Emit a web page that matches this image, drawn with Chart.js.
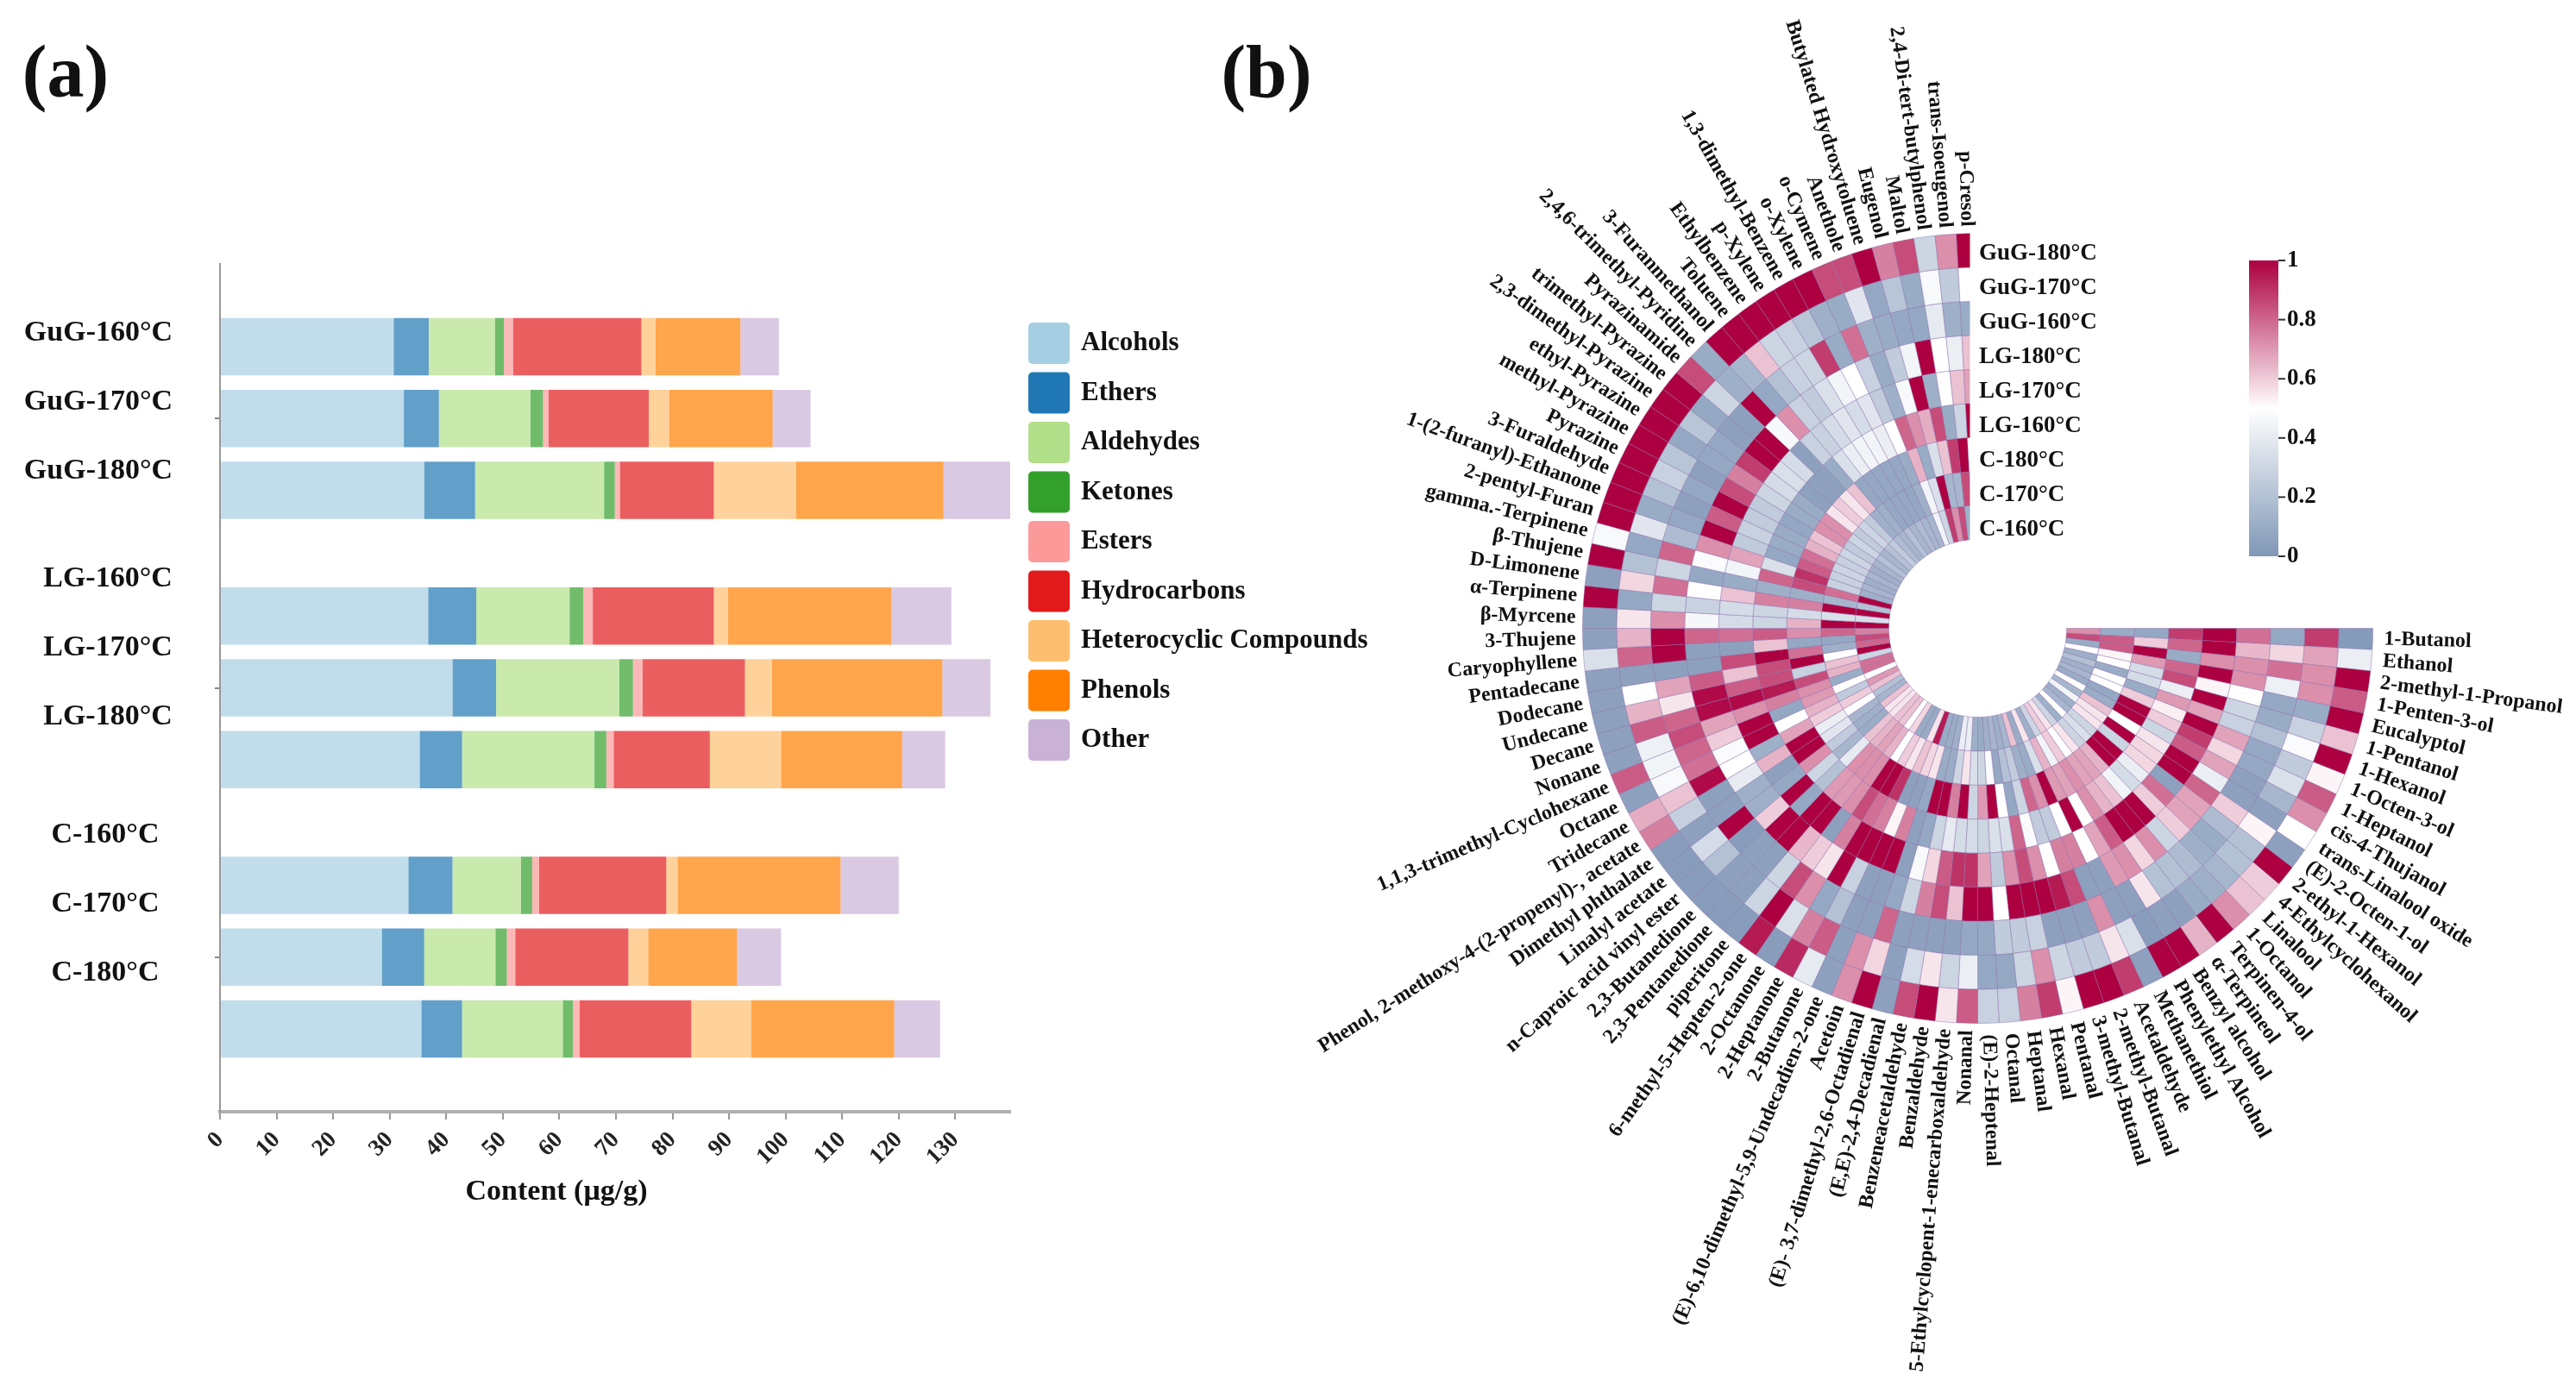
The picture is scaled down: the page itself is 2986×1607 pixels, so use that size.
<!DOCTYPE html>
<html><head><meta charset="utf-8">
<style>html,body{margin:0;padding:0;background:#fff}canvas{position:absolute;left:0;top:0}</style>
<script src="https://cdn.jsdelivr.net/npm/chart.js@4"></script>
</head><body>
<canvas id="bars" width="2986" height="1607"></canvas>
<canvas id="heat" width="2986" height="1607"></canvas>
<script>
// ---------- panel (a) data: rows top to bottom
const rowLabels=['GuG-160°C','GuG-170°C','GuG-180°C','LG-160°C','LG-170°C','LG-180°C','C-160°C','C-170°C','C-180°C'];
const classNames=['Alcohols','Ethers','Aldehydes','Ketones','Esters','Hydrocarbons','Heterocyclic Compounds','Phenols','Other'];
const classColors=['166,206,227','31,120,180','178,223,138','51,160,44','251,154,153','227,26,28','253,191,111','255,127,0','202,178,214'];
const alcohols=[30.7,32.5,36.1,36.8,41.1,35.3,33.3,28.6,35.6];
const ethers=[6.2,6.2,9.0,8.5,7.7,7.5,7.8,7.5,7.2];
const aldehydes=[11.7,16.2,22.8,16.5,21.8,23.4,12.1,12.6,17.8];
const ketones=[1.6,2.2,1.9,2.4,2.4,2.1,2.0,2.0,1.8];
const esters=[1.6,1.0,0.9,1.7,1.7,1.3,1.2,1.5,1.2];
const hydrocarbons=[22.7,17.7,16.6,21.4,18.1,17.0,22.5,20.0,19.7];
const heterocyclic=[2.5,3.6,14.5,2.5,4.8,12.6,2.0,3.5,10.6];
const phenols=[15.0,18.3,26.1,28.9,30.1,21.4,28.8,15.7,25.3];
const other=[6.8,6.7,12.0,10.6,8.5,7.6,10.3,7.8,8.1];
const classSeries=[alcohols,ethers,aldehydes,ketones,esters,hydrocarbons,heterocyclic,phenols,other];

// ---------- panel (b) data: compounds clockwise from 3 o'clock
const compounds=['1-Butanol','Ethanol','2-methyl-1-Propanol','1-Penten-3-ol','Eucalyptol','1-Pentanol','1-Hexanol','1-Octen-3-ol','1-Heptanol','cis-4-Thujanol','trans-Linalool oxide','(E)-2-Octen-1-ol','2-ethyl-1-Hexanol','4-Ethylcyclohexanol','Linalool','1-Octanol','Terpinen-4-ol','α-Terpineol','Benzyl alcohol','Phenylethyl Alcohol','Methanethiol','Acetaldehyde','2-methyl-Butanal','3-methyl-Butanal','Pentanal','Hexanal','Heptanal','Octanal','(E)-2-Heptenal','Nonanal','5-Ethylcyclopent-1-enecarboxaldehyde','Benzaldehyde','Benzeneacetaldehyde','(E,E)-2,4-Decadienal','(E)- 3,7-dimethyl-2,6-Octadienal','Acetoin','(E)-6,10-dimethyl-5,9-Undecadien-2-one','2-Butanone','2-Heptanone','2-Octanone','6-methyl-5-Hepten-2-one','piperitone','2,3-Pentanedione','2,3-Butanedione','n-Caproic acid vinyl ester','Linalyl acetate','Dimethyl phthalate','Phenol, 2-methoxy-4-(2-propenyl)-, acetate','Tridecane','Octane','1,1,3-trimethyl-Cyclohexane','Nonane','Decane','Undecane','Dodecane','Pentadecane','Caryophyllene','3-Thujene','β-Myrcene','α-Terpinene','D-Limonene','β-Thujene','gamma.-Terpinene','2-pentyl-Furan','1-(2-furanyl)-Ethanone','3-Furaldehyde','Pyrazine','methyl-Pyrazine','ethyl-Pyrazine','2,3-dimethyl-Pyrazine','trimethyl-Pyrazine','Pyrazinamide','2,4,6-trimethyl-Pyridine','3-Furanmethanol','Toluene','Ethylbenzene','p-Xylene','1,3-dimethyl-Benzene','o-Xylene','o-Cymene','Anethole','Butylated Hydroxytoluene','Eugenol','Maltol','2,4-Di-tert-butylphenol','trans-Isoeugenol','p-Cresol'];
const ringNames=['GuG-180°C','GuG-170°C','GuG-160°C','LG-180°C','LG-170°C','LG-160°C','C-180°C','C-170°C','C-160°C'];
const GuG180=[.02,.42,1,.82,1,.62,1,.52,.82,.72,.5,.05,1,.6,.62,.72,1,.65,1,1,.05,.88,1,1,.52,.88,.75,.28,.28,.82,.55,1,.85,.05,1,.72,.05,.4,.92,.03,.95,.03,.03,.03,.03,.03,.03,.75,.66,.05,.82,.05,.05,.05,.05,.05,.35,.05,.05,1,.05,1,.47,1,1,1,1,1,1,1,1,.85,.1,1,1,1,1,1,1,.85,.85,1,.75,.85,.3,.72,1];
const GuG170=[.88,.68,.72,.72,.1,.28,.48,.25,.35,.15,.05,.52,.2,.2,.15,.12,.1,.05,.05,.03,.35,.55,.25,.25,.3,.72,.3,.08,.08,.42,.3,.55,.33,.05,.58,.72,.05,.82,.75,.35,1,.3,.05,.05,.2,.33,.05,.27,.62,.47,.45,.43,.82,.65,.5,.05,.8,.65,.55,.08,.58,.2,.08,.38,.1,.2,.28,.22,.08,.22,.08,.3,.12,.15,.62,.3,.28,.22,.12,.1,.38,.08,.22,.1,.47,.25,.5];
const GuG160=[.08,.58,.78,.43,.08,.1,.2,.08,.08,.05,.05,.6,.18,.1,.12,.18,.2,.2,.55,.05,.05,.72,.05,.05,.05,.28,.25,.25,.08,.08,.05,.05,.05,.05,.8,.05,.05,.2,.08,.72,.85,.3,.05,.05,.03,1,.05,.05,.98,.78,.8,.85,.8,.55,.68,.05,1,1,.72,.3,.78,.3,.8,.18,.08,.05,.08,.05,.08,.08,.05,.05,1,.08,.2,.28,.3,.88,.1,.78,.12,.1,.08,.08,.4,.12,.1];
const LG180=[.78,.64,.72,.72,.5,.3,.28,.68,.58,.68,.42,.8,.68,.68,.6,.3,.72,.58,.72,.7,.05,.05,.85,.95,1,1,1,.5,1,1,.62,.85,.75,.3,.08,.05,.05,.28,1,.55,.6,.64,1,1,.6,.12,.12,.4,.5,.48,.6,.68,.98,.98,.82,.05,.05,.8,.46,.28,.5,.08,.48,.72,1,.82,1,.85,.75,.88,1,1,.47,.72,.28,.25,.35,.45,.5,.28,.1,.25,.45,1,.5,.42,.62];
const LG170=[1,1,.72,1,.52,1,.68,1,.88,.82,1,1,.05,.78,.6,1,1,1,.82,.68,.5,.75,.75,.5,.72,.85,.72,.25,.68,.9,.9,.82,.58,.47,.05,1,1,1,1,.75,.05,1,1,.08,1,.08,.05,.65,.12,1,1,.72,.98,.82,.62,.85,.05,.78,.33,.33,.62,.1,.45,.68,.25,.28,.25,.25,.3,.33,.35,.33,.05,.28,.28,.33,.38,.33,.38,.25,.12,.47,1,.12,.5,.62,.68];
const LG160=[.88,.8,.1,.8,.85,.42,.7,.53,.6,.3,.55,.58,.58,.42,.33,.45,.62,.65,.72,.5,1,.5,.25,.25,.48,.8,.35,.35,.3,.33,.33,.4,.3,.08,.05,.75,.52,.75,.78,.85,.72,.7,.7,.2,.3,.72,1,1,.68,.5,.08,.75,.95,.85,.85,1,.62,.82,.3,.3,.75,.12,.8,.35,.08,.1,.1,.08,.1,.1,.05,.05,.05,.1,.35,.42,.45,.45,.42,.5,.8,.72,.66,.85,.1,.3,1];
const C180=[.08,.6,1,.7,.33,.33,.1,.6,1,1,.5,1,.3,1,1,.65,.68,.68,.72,.68,.7,1,.72,.8,.3,.08,.5,1,.7,.3,1,.75,1,1,.08,.05,.05,.9,1,1,.72,.72,.72,.4,.15,.25,.38,.42,.6,.65,.7,.72,.85,.28,1,.78,.08,.72,.65,.33,.75,.12,.85,.9,.82,.78,.65,.62,.72,.72,.55,.6,.55,.62,.08,.08,.08,.08,.08,.1,.65,.1,.35,.62,.88,1,.5];
const C170=[.1,.82,.82,.52,.5,.1,.5,.5,.08,.1,.62,.55,.55,.3,.35,.3,.55,.5,.6,.45,.65,.35,.1,.12,.25,.2,.08,.48,.3,.35,.55,.3,.1,.1,.55,.58,.62,.55,.6,.5,.65,.68,.65,.62,.1,.12,.15,.5,.6,.25,.5,.1,.65,.62,.5,.12,.08,.8,1,.35,1,.15,.78,.28,.28,.3,.28,.3,.25,.3,.25,.3,.25,.12,.12,.08,.08,.08,.08,.12,.45,.35,1,.15,.15,.85,.08];
const C160=[.72,.85,.1,.5,.12,.2,.12,.15,.1,.5,.15,.45,.12,.15,.5,.12,.3,.55,.6,.3,.12,.55,.1,.62,.15,.12,.15,.12,.1,.12,.42,.42,.12,.1,.1,.95,.55,.1,.1,.58,.5,.62,.62,.55,.55,.62,.15,.2,.62,.7,.5,.78,.78,.3,1,.8,.85,.75,1,.35,1,.2,1,.12,.15,.12,.15,.12,.15,.2,.15,.2,.25,.18,.15,.2,.15,.18,.15,.15,.45,.3,.88,.72,.85,.12,.6];
const ringValues=[GuG180,GuG170,GuG160,LG180,LG170,LG160,C180,C170,C160];
const colorbarTicks=[1,0.8,0.6,0.4,0.2,0];

// ---------- styling
const SERIF="'Liberation Serif','Times New Roman',serif";
const LOW=[128,151,183],MID=[255,255,255],HIGH=[173,0,64];
function heatColor(v){
  const a=v<.5?LOW:MID,b=v<.5?MID:HIGH,t=v<.5?v/.5:(v-.5)/.5;
  return 'rgb('+a.map((c,i)=>Math.round(c+(b[i]-c)*t)).join(',')+')';
}
function put(ctx,text,x,y,font,align,rot){
  ctx.save();ctx.translate(x,y);if(rot)ctx.rotate(rot);
  ctx.font=font;ctx.fillStyle='#111';ctx.textAlign=align||'left';ctx.textBaseline='middle';
  ctx.fillText(text,0,0);ctx.restore();
}
Chart.defaults.font.family=SERIF;

// ---------- panel (a)
const stacks=['top','middle','bottom'];
const barDatasets=[];
classSeries.forEach((vals,c)=>stacks.forEach((st,s)=>{
  barDatasets.push({
    label:classNames[c],stack:st,
    backgroundColor:'rgba('+classColors[c]+',0.7)',borderWidth:0,
    categoryPercentage:0.8,barPercentage:0.8,
    data:[0,1,2].map(g=>({x:vals[g*3+s],y:g}))
  });
}));
const rowLabelX=[114,114,114,125,125,125,122,122,122];
const rowLabelY=[386,466,546,671,751,831,968,1048,1128];
const panelA={id:'panelA',afterDraw(chart){
  const ctx=chart.ctx;
  put(ctx,'(a)',76,90,'bold 86px '+SERIF,'center');
  rowLabels.forEach((t,i)=>put(ctx,t,rowLabelX[i],rowLabelY[i],'bold 34px '+SERIF,'center'));
  put(ctx,'Content (μg/g)',645,1382,'bold 34px '+SERIF,'center');
  classNames.forEach((n,i)=>{
    const y=398+i*57.5;
    ctx.fillStyle='rgb('+classColors[i]+')';
    ctx.beginPath();ctx.roundRect(1192,y-24,48,48,5);ctx.fill();
    put(ctx,n,1253,y,'bold 31px '+SERIF,'left');
  });
}};
new Chart(document.getElementById('bars'),{
  type:'bar',
  data:{datasets:barDatasets},
  plugins:[panelA],
  options:{
    indexAxis:'y',responsive:false,animation:false,devicePixelRatio:1,
    layout:{padding:{left:249,right:1815,top:306,bottom:218}},
    plugins:{legend:{display:false},tooltip:{enabled:false}},
    scales:{
      x:{type:'linear',stacked:true,min:0,max:139.7,
        afterBuildTicks(s){s.ticks=s.ticks.filter(t=>t.value%10===0);},
        afterFit(s){s.height=100;},
        grid:{drawOnChartArea:false,color:'#999',tickLength:9,lineWidth:2},
        border:{color:'#b0b0b0',width:4},
        ticks:{stepSize:10,minRotation:45,maxRotation:45,padding:8,color:'#222',font:{family:SERIF,size:27,weight:'bold'}}},
      y:{type:'linear',reverse:true,min:-0.574,max:2.574,offset:false,
        afterBuildTicks(s){s.ticks=[0,1,2].map(v=>({value:v}));},
        afterFit(s){s.width=6;},
        grid:{drawOnChartArea:false,offset:false,color:'#888',tickLength:6,lineWidth:2},
        border:{color:'#999',width:2},
        ticks:{display:true,callback:()=>'',padding:0}}
    }
  }
});

// ---------- panel (b)
const RING_OUT=458,RING_IN=103,CX=2292,CY=728;
const panelB={id:'panelB',
 afterDatasetsDraw(chart){
  const ctx=chart.ctx,arc=chart.getDatasetMeta(0).data[0],cx=arc.x,cy=arc.y;
  // the last column is cut by the reference's vertical edge
  ctx.fillStyle='#fff';ctx.fillRect(cx-9,cy-RING_OUT-4,14,RING_OUT-RING_IN+6);
 },
 afterDraw(chart){
  const ctx=chart.ctx,arc=chart.getDatasetMeta(0).data[0],cx=arc.x,cy=arc.y;
  const step=270/compounds.length;
  compounds.forEach((name,i)=>{
    const deg=(i+.5)*step,a=deg*Math.PI/180,right=deg<90;
    const r=RING_OUT+(right?13:8);
    put(ctx,name,cx+r*Math.cos(a),cy+r*Math.sin(a),'bold 24px '+SERIF,right?'left':'right',right?a:a-Math.PI);
  });
  const thick=(RING_OUT-RING_IN)/ringNames.length;
  ringNames.forEach((n,k)=>put(ctx,n,2294,cy-RING_OUT+(k+.5)*thick+4+k*.5,'bold 27px '+SERIF,'left'));
  put(ctx,'(b)',1468,90,'bold 86px '+SERIF,'center');
  // colour bar
  const g=ctx.createLinearGradient(0,645,0,302);
  for(let s=0;s<=10;s++)g.addColorStop(s/10,heatColor(s/10));
  ctx.fillStyle=g;ctx.fillRect(2607,302,34,343);
  colorbarTicks.forEach(v=>{
    const y=645-343*v;
    ctx.fillStyle='#333';ctx.fillRect(2641,y-1,8,2);
    put(ctx,String(v),2651,y,'bold 27px '+SERIF,'left');
  });
 }};
new Chart(document.getElementById('heat'),{
  type:'doughnut',
  data:{labels:compounds,datasets:ringValues.map((vals,k)=>({
    label:ringNames[k],
    data:compounds.map(()=>1),
    backgroundColor:vals.map(heatColor),
    borderColor:'rgba(136,106,170,0.45)',borderWidth:1
  }))},
  plugins:[panelB],
  options:{
    responsive:false,animation:false,devicePixelRatio:1,
    rotation:90,circumference:270,cutout:RING_IN,
    layout:{padding:{left:CX-RING_OUT,right:2986-CX-RING_OUT-1,top:CY-RING_OUT,bottom:1607-CY-RING_OUT-1}},
    plugins:{legend:{display:false},tooltip:{enabled:false}}
  }
});
</script>
</body></html>
